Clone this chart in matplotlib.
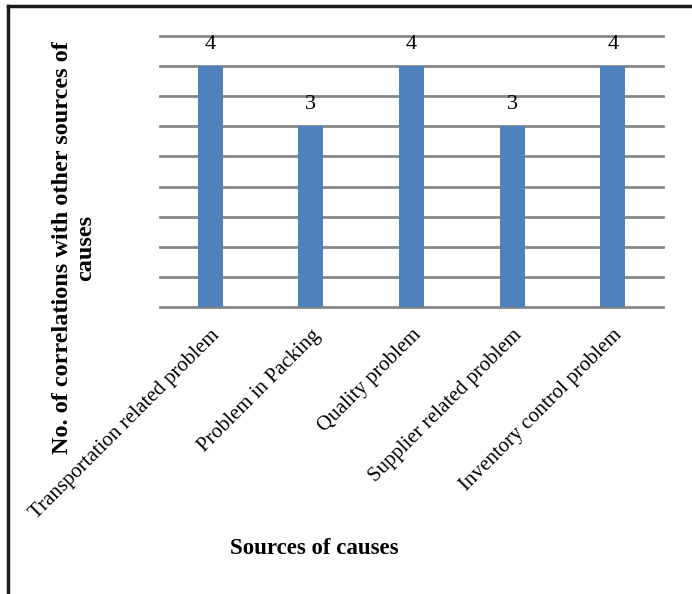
import matplotlib
matplotlib.use("Agg")
import matplotlib.pyplot as plt
from matplotlib.lines import Line2D
import numpy as np

categories = ["Transportation related problem", "Problem in Packing", "Quality problem",
              "Supplier related problem", "Inventory control problem"]
correlations = [4, 3, 4, 3, 4]

plt.rcParams['font.family'] = ['Liberation Serif', 'DejaVu Serif']

fig = plt.figure(figsize=(6.92, 5.94), dpi=100)
ax = fig.add_axes([0.2312, 0.4832, 0.7269, 0.4562])

x = np.arange(len(categories))
ax.bar(x, correlations, width=0.25, color='#4F81BD', zorder=3)

for xi, v in zip(x, correlations):
    ax.text(xi, v + 0.36, str(v), ha='center', va='center', fontsize=16, color='black')

ax.set_xlim(-0.5, len(categories) - 0.5)
ax.set_ylim(0, 4.5)
ax.set_yticks(np.arange(0, 4.51, 0.5))
ax.yaxis.grid(True, color='#878787', linewidth=2, zorder=0)
for gl in ax.get_ygridlines():
    gl.set_clip_on(False)
ax.tick_params(axis='y', left=False, labelleft=False)
ax.tick_params(axis='x', bottom=False, pad=10)
for s in ax.spines.values():
    s.set_visible(False)

ax.set_xticks(x)
ax.set_xticklabels(categories, rotation=45, ha='right', rotation_mode='anchor', fontsize=15)

fig.text(74 / 692, 1 - 248 / 594, "No. of correlations with other sources of\ncauses",
         rotation=90, ha='center', va='center', fontsize=17.5, fontweight='bold',
         linespacing=1.1)
fig.text(314 / 692, 1 - 548 / 594, "Sources of causes", ha='center', va='center',
         fontsize=16.5, fontweight='bold')

# frame around the figure
fig.add_artist(Line2D([7.5 / 692, 7.5 / 692], [0, 1 - 6 / 594], transform=fig.transFigure,
                      color='#1a1a1a', linewidth=2.5))
fig.add_artist(Line2D([7.5 / 692, 1], [1 - 6 / 594, 1 - 6 / 594], transform=fig.transFigure,
                      color='#1a1a1a', linewidth=2.5))

fig.savefig("out.png", dpi=100)
